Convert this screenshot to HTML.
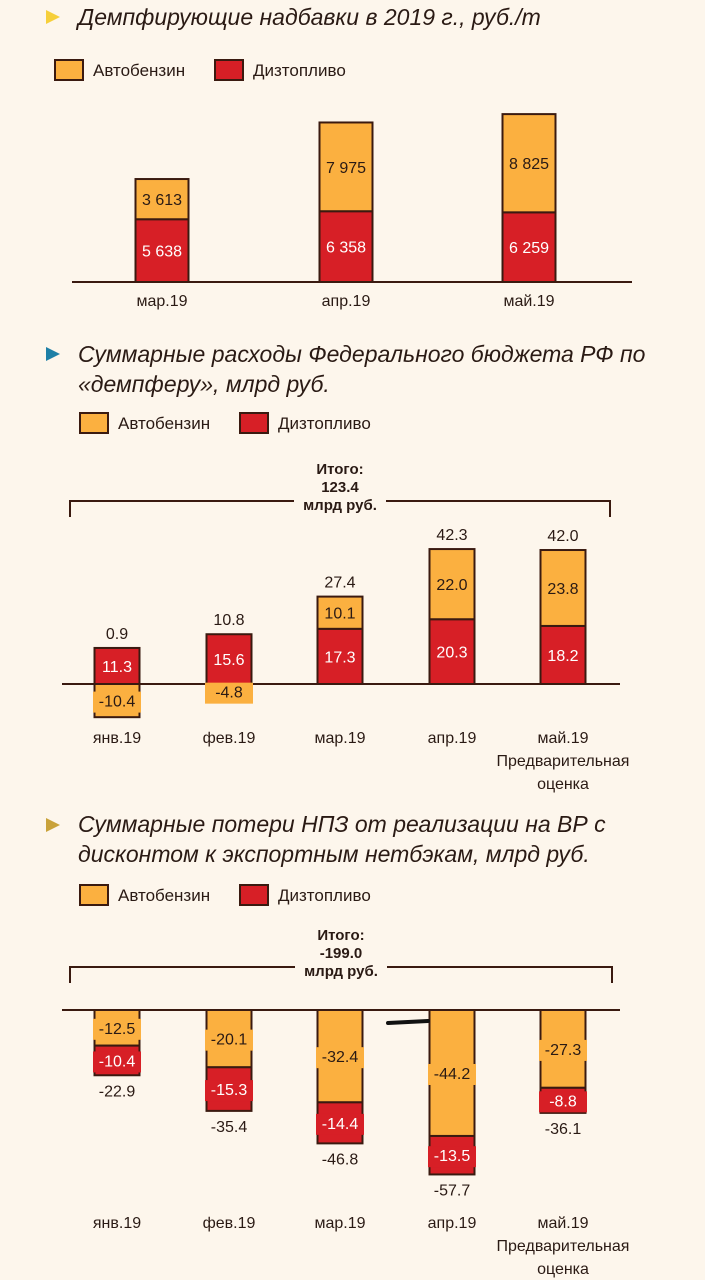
<!DOCTYPE html>
<html><head><meta charset="utf-8">
<style>
html,body{margin:0;padding:0;background:#fdf6ec;}
svg{display:block;font-family:"Liberation Sans","DejaVu Sans",sans-serif;}
.t{font-style:italic;font-size:23px;fill:#2a1a14;}
.lg{font-size:17px;fill:#2a1a14;}
.cat{font-size:16px;fill:#2a1a14;text-anchor:middle;}
.val{font-size:16px;text-anchor:middle;}
.tot{font-size:15px;font-weight:bold;text-anchor:middle;fill:#2a1a14;}
</style></head>
<body>
<svg id="c" width="705" height="1280" viewBox="0 0 705 1280">
<rect width="705" height="1280" fill="#fdf6ec"/>
<polygon points="46,10 60,17 46,24" fill="#f6cf3a"/>
<text x="78" y="25" class="t">Демпфирующие надбавки в 2019 г., руб./т</text>
<polygon points="46,347 60,354 46,361" fill="#1e7fa6"/>
<text x="78" y="362" class="t">Суммарные расходы Федерального бюджета РФ по</text>
<text x="78" y="392" class="t">«демпферу», млрд руб.</text>
<polygon points="46,818 60,825 46,832" fill="#c9a23a"/>
<text x="78" y="832" class="t">Суммарные потери НПЗ от реализации на ВР с</text>
<text x="78" y="862" class="t">дисконтом к экспортным нетбэкам, млрд руб.</text>
<g id="g"></g>
</svg>
<script>
const cats1=["мар.19","апр.19","май.19"];
const gas1=[3613,7975,8825];
const dsl1=[5638,6358,6259];
const lab1=["3 613","7 975","8 825"];
const labD1=["5 638","6 358","6 259"];

const cats2=["янв.19","фев.19","мар.19","апр.19","май.19"];
const gas2=[-10.4,-4.8,10.1,22.0,23.8];
const dsl2=[11.3,15.6,17.3,20.3,18.2];
const tot2=[0.9,10.8,27.4,42.3,42.0];

const cats3=["янв.19","фев.19","мар.19","апр.19","май.19"];
const gas3=[-12.5,-20.1,-32.4,-44.2,-27.3];
const dsl3=[-10.4,-15.3,-14.4,-13.5,-8.8];
const tot3=[-22.9,-35.4,-46.8,-57.7,-36.1];

const NS="http://www.w3.org/2000/svg",G=document.getElementById('g');
const OR="#fbb040",RD="#d71f26",LN="#3a1a10";
function el(t,a,txt){const e=document.createElementNS(NS,t);for(const k in a)e.setAttribute(k,a[k]);if(txt!==undefined)e.textContent=txt;G.appendChild(e);return e;}
function fmt(v){return v.toFixed(1);}

function legend(x,y,pre){
  let r=el('rect',{x:x,y:y,width:28,height:20,fill:OR,stroke:LN,'stroke-width':2});
  
  let t=el('text',{x:x+38,y:y+16,class:'lg'},'Автобензин');
  
  r=el('rect',{x:x+160,y:y,width:28,height:20,fill:RD,stroke:LN,'stroke-width':2});
  
  t=el('text',{x:x+198,y:y+16,class:'lg'},'Дизтопливо');
  
}
function seg(x,w,y0,y1,fill,pre,name){
  const r=el('rect',{x:x,y:Math.min(y0,y1),width:w,height:Math.abs(y1-y0),fill:fill,stroke:LN,'stroke-width':2});
  
}
function lbl(x,y,s,col,pre,name,bg){
  if(bg){const b=el('rect',{x:x-24,y:y-15,width:48,height:21,fill:bg});}
  const t=el('text',{x:x,y:y,class:'val',fill:col},s);
  
}
function bracket(x0,x1,y,pre,total){
  const p=el('path',{d:`M${x0} ${y+16}V${y}H${x1}V${y+16}`,fill:'none',stroke:LN,'stroke-width':2});
  
  const cx=(x0+x1)/2;
  const b=el('rect',{x:cx-46,y:y-8,width:92,height:16,fill:'#fdf6ec'});
  
  ['Итого:',total,'млрд руб.'].forEach((s,i)=>{const t=el('text',{x:cx,y:y-27+i*18,class:'tot'},s);});
}
function axis(x0,x1,y,pre){const l=el('line',{x1:x0,x2:x1,y1:y,y2:y,stroke:LN,'stroke-width':2});}
function catlab(x,y,s,pre,extra){
  const t=el('text',{x:x,y:y,class:'cat'},s);
  if(extra){['Предварительная','оценка'].forEach((s2,i)=>{const u=el('text',{x:x,y:y+23*(i+1),class:'cat'},s2);});}
}

/* chart 1 */
legend(55,60,'chart1');
{const base=282,k=0.01113,xs=[162,346,529],w=53;
 axis(72,632,base,'chart1');
 cats1.forEach((c,i)=>{
  const x=xs[i]-w/2,yd=base-dsl1[i]*k,yg=yd-gas1[i]*k;
  seg(x,w,base,yd,RD,'chart1','bar-diesel-'+i);
  seg(x,w,yd,yg,OR,'chart1','bar-gasoline-'+i);
  lbl(xs[i],(base+yd)/2+6,labD1[i],'#fff','chart1','value-diesel-'+i);
  lbl(xs[i],(yd+yg)/2+6,lab1[i],'#2a1a14','chart1','value-gasoline-'+i);
  catlab(xs[i],306,c,'chart1');
 });}

/* chart 2 */
legend(80,413,'chart2');
bracket(70,610,501,'chart2','123.4');
{const base=684,k=3.19,xs=[117,229,340,452,563],w=45;
 axis(62,620,base,'chart2');
 cats2.forEach((c,i)=>{
  const x=xs[i]-w/2,yd=base-dsl2[i]*k;
  seg(x,w,base,yd,RD,'chart2','bar-diesel-'+i);
  lbl(xs[i],(base+yd)/2+6,fmt(dsl2[i]),'#fff','chart2','value-diesel-'+i);
  let yg,top;
  if(gas2[i]<0){yg=base-gas2[i]*k;seg(x,w,base,yg,OR,'chart2','bar-gasoline-'+i);top=yd;
    lbl(xs[i],(base+yg)/2+6,fmt(gas2[i]),'#2a1a14','chart2','value-gasoline-'+i,OR);}
  else{yg=yd-gas2[i]*k;seg(x,w,yd,yg,OR,'chart2','bar-gasoline-'+i);top=yg;
    lbl(xs[i],(yd+yg)/2+6,fmt(gas2[i]),'#2a1a14','chart2','value-gasoline-'+i);}
  lbl(xs[i],top-9,fmt(tot2[i]),'#2a1a14','chart2','total-'+i);
  catlab(xs[i],743,c,'chart2',i===4);
 });}

/* chart 3 */
legend(80,885,'chart3');
bracket(70,612,967,'chart3','-199.0');
{const base=1010,k=2.85,xs=[117,229,340,452,563],w=45;
 axis(62,620,base,'chart3');
 cats3.forEach((c,i)=>{
  const x=xs[i]-w/2,yg=base-gas3[i]*k,yd=yg-dsl3[i]*k;
  seg(x,w,base,yg,OR,'chart3','bar-gasoline-'+i);
  seg(x,w,yg,yd,RD,'chart3','bar-diesel-'+i);
  lbl(xs[i],(base+yg)/2+6,fmt(gas3[i]),'#2a1a14','chart3','value-gasoline-'+i,OR);
  lbl(xs[i],(yg+yd)/2+6,fmt(dsl3[i]),'#fff','chart3','value-diesel-'+i,RD);
  lbl(xs[i],yd+21,fmt(tot3[i]),'#2a1a14','chart3','total-'+i);
  catlab(xs[i],1228,c,'chart3',i===4);
 });}
const m=el('path',{d:'M388 1023 L428 1021',stroke:'#111','stroke-width':4,'stroke-linecap':'round'});


</script>
</body></html>
